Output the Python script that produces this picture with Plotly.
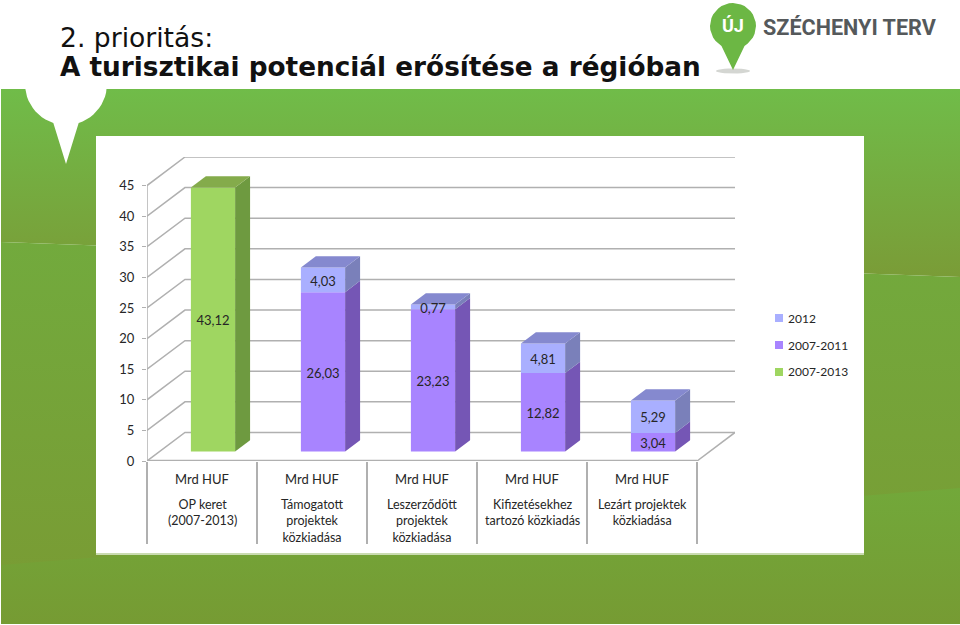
import math
import plotly.graph_objects as go

# values
categories = ["OP keret<br>(2007-2013)", "Támogatott<br>projektek<br>közkiadása",
              "Leszerződött<br>projektek<br>közkiadása", "Kifizetésekhez<br>tartozó közkiadás",
              "Lezárt projektek<br>közkiadása"]
unit_labels = ["Mrd HUF"] * 5
keret = [43.12, None, None, None, None]
y2007_2011 = [None, 26.03, 23.23, 12.82, 3.04]
y2012 = [None, 4.03, 0.77, 4.81, 5.29]
y_ticks = [0, 5, 10, 15, 20, 25, 30, 35, 40, 45]
legend_names = ["2012", "2007-2011", "2007-2013"]
legend_colors = ["#a9afff", "#a884ff", "#9fd661"]

# oblique 3D look, offsets in axis units
WALL_DX, WALL_DY = 0.345, 4.66
SHIFT_X, SHIFT_Y = 0.10, 1.55
BAR_DX, BAR_DY = 0.136, 1.85
BAR_W = 0.402
LABEL_DROP = 0.4
X_MAX, Y_MAX = 5 + WALL_DX, 45 + WALL_DY

GRID = "#b0b0b0"
FONT = "Lato"
TEXT = "#262626"

fig = go.Figure()


# slide background, in pixel coordinates on the x/y subplot
def band(xs, ys, top, bottom):
    fig.add_trace(go.Scatter(
        x=xs, y=ys, xaxis="x", yaxis="y", mode="lines", line=dict(width=0), fill="toself",
        fillgradient=dict(type="vertical", colorscale=[[0, bottom], [1, top]]),
        hoverinfo="skip", showlegend=False))


def flat_poly(xs, ys, color="white"):
    fig.add_trace(go.Scatter(
        x=xs, y=ys, xaxis="x", yaxis="y", mode="lines", line=dict(width=0), fill="toself",
        fillcolor=color, hoverinfo="skip", showlegend=False))


def arc(cx, cy, rx, ry, degrees):
    return ([cx + rx * math.cos(math.radians(d)) for d in degrees],
            [cy + ry * math.sin(math.radians(d)) for d in degrees])


band([1, 960, 960, 1], [89, 89, 277, 242], "#70bc49", "#7a9c37")
band([1, 960, 960, 1], [242, 277, 624, 624], "#72aa3d", "#7a9a33")
band([1, 960, 960, 1], [565, 488, 624, 624], "#72a83a", "#769b33")

flat_poly([96, 864, 864, 96], [553, 553, 555, 555], "#c9dbb0")
flat_poly([96, 864, 864, 96], [136, 136, 553, 553])

# white pin cut into the top band
pin_x, pin_y = arc(66, 84, 41, 41, range(108, 433, 6))
flat_poly(pin_x + [66], pin_y + [164])

# logo pin
shadow_x, shadow_y = arc(733, 71, 17, 2.5, range(0, 360, 15))
flat_poly(shadow_x, shadow_y, "#d4d6d2")
logo_x, logo_y = arc(733, 26, 23, 23, range(120, 421, 10))
flat_poly(logo_x + [733], logo_y + [70], "#6cb744")

# walls and floor, drawn from the tick values on their own subplot below the bars
wall_x, wall_y = [], []
for v in y_ticks:
    wall_x += [0, WALL_DX, X_MAX, None]
    wall_y += [v, v + WALL_DY, v + WALL_DY, None]
wall_x += [0, 0, None, 5, X_MAX, None]
wall_y += [0, 45, None, 0, WALL_DY, None]
fig.add_trace(go.Scatter(x=wall_x, y=wall_y, xaxis="x2", yaxis="y2", mode="lines",
                         line=dict(color=GRID, width=1.5), hoverinfo="skip", showlegend=False))
fig.add_trace(go.Scatter(x=[0, 5], y=[0, 0], xaxis="x2", yaxis="y2", mode="lines",
                         line=dict(color=GRID, width=2.5), hoverinfo="skip", showlegend=False))


# front faces are real bars, stacked by hand because they start above the axis
def add_front(values, bases, name, color):
    xs = [i + 0.5 + SHIFT_X for i in range(5)]
    fig.add_trace(go.Bar(
        x=xs, y=values, base=bases, width=BAR_W, name=name, xaxis="x3", yaxis="y3",
        marker=dict(color=color, line=dict(width=0)), showlegend=False))


def add_faces(values, bases, color, is_top=False):
    fx, fy = [], []
    for i, (v, b) in enumerate(zip(values, bases)):
        if v is None:
            continue
        x_r = i + 0.5 + SHIFT_X + BAR_W / 2
        x_l = x_r - BAR_W
        if is_top:
            fx += [x_l, x_r, x_r + BAR_DX, x_l + BAR_DX, x_l, None]
            fy += [b + v, b + v, b + v + BAR_DY, b + v + BAR_DY, b + v, None]
        else:
            fx += [x_r, x_r + BAR_DX, x_r + BAR_DX, x_r, x_r, None]
            fy += [b, b + BAR_DY, b + v + BAR_DY, b + v, b, None]
    fig.add_trace(go.Scatter(x=fx, y=fy, xaxis="x3", yaxis="y3", mode="lines", line=dict(width=0),
                             fill="toself", fillcolor=color, hoverinfo="skip", showlegend=False))


# value labels sit on top of all faces, the 0,77 one is taller than its segment
def add_labels(values, bases):
    rows = [(i, v, b) for i, (v, b) in enumerate(zip(values, bases)) if v is not None]
    fig.add_trace(go.Scatter(
        x=[i + 0.5 + SHIFT_X for i, v, b in rows],
        y=[b + v / 2 - LABEL_DROP for i, v, b in rows],
        text=[f"{v:.2f}".replace(".", ",") for i, v, b in rows],
        xaxis="x3", yaxis="y3", mode="text", textposition="middle center", cliponaxis=False,
        textfont=dict(family=FONT, size=13, color=TEXT), hoverinfo="skip", showlegend=False))


base_floor = [SHIFT_Y] * 5
base_2012 = [SHIFT_Y + (v or 0) for v in y2007_2011]

add_front(keret, base_floor, "2007-2013", "#9fd661")
add_front(y2007_2011, base_floor, "2007-2011", "#a884ff")
add_front(y2012, base_2012, "2012", "#a9afff")

add_faces(keret, base_floor, "#6e9a40")
add_faces(y2007_2011, base_floor, "#7556b5")
add_faces(y2012, base_2012, "#7a80ba")
add_faces(keret, base_floor, "#84ab4b", is_top=True)
add_faces(y2012, base_2012, "#8589cf", is_top=True)

add_labels(keret, base_floor)
add_labels(y2007_2011, base_floor)
add_labels(y2012, base_2012)

# legend keys, the native legend has too wide a gap before the text
legend_y = [318, 345, 372]
fig.add_trace(go.Scatter(x=[779] * 3, y=legend_y, xaxis="x", yaxis="y", mode="markers",
                         marker=dict(symbol="square", size=8, color=legend_colors),
                         hoverinfo="skip", showlegend=False))

annotations = []
for i, cat in enumerate(categories):
    annotations.append(dict(x=i + 0.5, y=1 - 495 / 625, xref="x3", yref="paper", text=cat, showarrow=False,
                            xanchor="center", yanchor="top", align="center",
                            font=dict(family=FONT, size=12.5, color=TEXT)))
for name, ly in zip(legend_names, legend_y):
    annotations.append(dict(x=785.5 / 960, y=1 - ly / 625, xref="paper", yref="paper", text=name, showarrow=False,
                            xanchor="left", yanchor="middle", font=dict(family=FONT, size=12, color=TEXT)))
annotations += [
    dict(x=58 / 960, y=1 - 37 / 625, xref="paper", yref="paper", text="2. prioritás:", showarrow=False,
         xanchor="left", yanchor="middle", font=dict(family="DejaVu Sans", size=26.6, color="#111111")),
    dict(x=58 / 960, y=1 - 67 / 625, xref="paper", yref="paper", text="<b>A turisztikai potenciál erősítése a régióban</b>",
         showarrow=False, xanchor="left", yanchor="middle",
         font=dict(family="DejaVu Sans", size=26.3, color="#111111")),
    dict(x=761 / 960, y=1 - 27 / 625, xref="paper", yref="paper", text="<b>SZÉCHENYI TERV</b>", showarrow=False,
         xanchor="left", yanchor="middle", font=dict(family="Roboto", size=21.6, color="#55595b")),
    dict(x=733 / 960, y=1 - 26 / 625, xref="paper", yref="paper", text="<b>ÚJ</b>", showarrow=False,
         xanchor="center", yanchor="middle", font=dict(family="Roboto", size=18, color="white")),
]

x_dom = [147 / 960, 735 / 960]
y_dom = [(625 - 461) / 625, (625 - 157) / 625]
hidden = dict(visible=False, fixedrange=True)

fig.update_layout(
    width=960, height=625, autosize=False,
    margin=dict(l=0, r=0, t=0, b=0, autoexpand=False),
    paper_bgcolor="white", plot_bgcolor="rgba(0,0,0,0)",
    barmode="overlay", showlegend=False,
    annotations=annotations,
    xaxis=dict(hidden, range=[0, 960], domain=[0, 1], anchor="y"),
    yaxis=dict(hidden, range=[625, 0], domain=[0, 1], anchor="x"),
    xaxis2=dict(hidden, range=[0, X_MAX], domain=x_dom, anchor="y2"),
    yaxis2=dict(hidden, range=[0, Y_MAX], domain=y_dom, anchor="x2"),
    xaxis3=dict(range=[0, X_MAX], domain=x_dom, anchor="y3", showgrid=False, zeroline=False, showline=False,
                tickmode="array", tickvals=[i + 0.5 for i in range(5)], ticktext=unit_labels,
                ticks="outside", ticklen=6, tickcolor="rgba(0,0,0,0)",
                tickfont=dict(family=FONT, size=13, color=TEXT),
                minor=dict(ticks="outside", tickmode="array", tickvals=[0, 1, 2, 3, 4, 5],
                           ticklen=82, tickwidth=1.5, tickcolor=GRID)),
    yaxis3=dict(range=[0, Y_MAX], domain=y_dom, anchor="x3", showgrid=False, zeroline=False, showline=False,
                tickmode="array", tickvals=y_ticks, ticks="outside", ticklen=4, tickcolor=GRID,
                ticklabelstandoff=5, tickfont=dict(family=FONT, size=13, color=TEXT)),
)

fig.write_html("out.html", config={"displayModeBar": False},
               post_script="document.body.style.margin='0';document.body.style.overflow='hidden';")
